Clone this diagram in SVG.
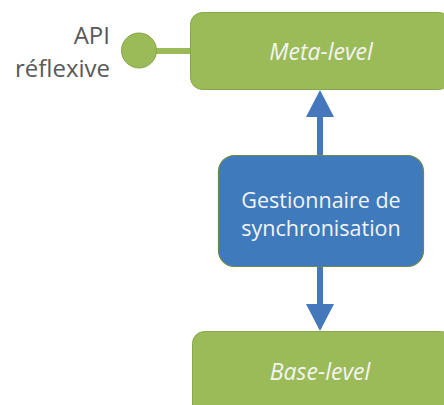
<svg xmlns="http://www.w3.org/2000/svg" width="444" height="405" viewBox="0 0 444 405">
<style>
.green{fill:#9bbb59;stroke:#87a74a;stroke-width:1}
.blue{fill:#3f7abd;stroke:#6e8a4a;stroke-width:1.2}
.lbl{font-family:"Open Sans","Liberation Sans",sans-serif;font-size:21.5px;fill:#f4f4f4;text-anchor:middle}
.it{font-style:italic;font-size:23px}
.api{font-family:"Open Sans","Liberation Sans",sans-serif;font-size:24px;fill:#595959;text-anchor:end}
.arrow{stroke:#4477bb;stroke-width:6;fill:none}
.head{fill:#4477bb}
</style>
<rect width="444" height="405" fill="#ffffff"/>
<g id="connectors">
<line x1="150" y1="51" x2="191" y2="51" stroke="#9bbb59" stroke-width="6"/>
<line class="arrow" x1="320" y1="115" x2="320" y2="156"/>
<polygon class="head" points="320,90 334,117 306,117"/>
<line class="arrow" x1="320" y1="266" x2="320" y2="306"/>
<polygon class="head" points="320,331 334,304 306,304"/>
</g>
<g id="api">
<circle cx="139" cy="50.5" r="17.5" fill="#9bbb59" stroke="#87a74a" stroke-width="1"/>
<text class="api" x="110" y="44">API</text>
<text class="api" x="110" y="77">réflexive</text>
</g>
<g id="meta">
<rect class="green" x="190.5" y="12.5" width="260" height="77" rx="12"/>
<text class="lbl it" x="321" y="60">Meta-level</text>
</g>
<g id="sync">
<rect class="blue" x="218.5" y="155.5" width="205" height="111" rx="16"/>
<text class="lbl" x="321" y="208">Gestionnaire de</text>
<text class="lbl" x="321" y="236">synchronisation</text>
</g>
<g id="base">
<rect class="green" x="192.5" y="331.5" width="260" height="90" rx="12"/>
<text class="lbl it" x="320" y="380">Base-level</text>
</g>
</svg>
